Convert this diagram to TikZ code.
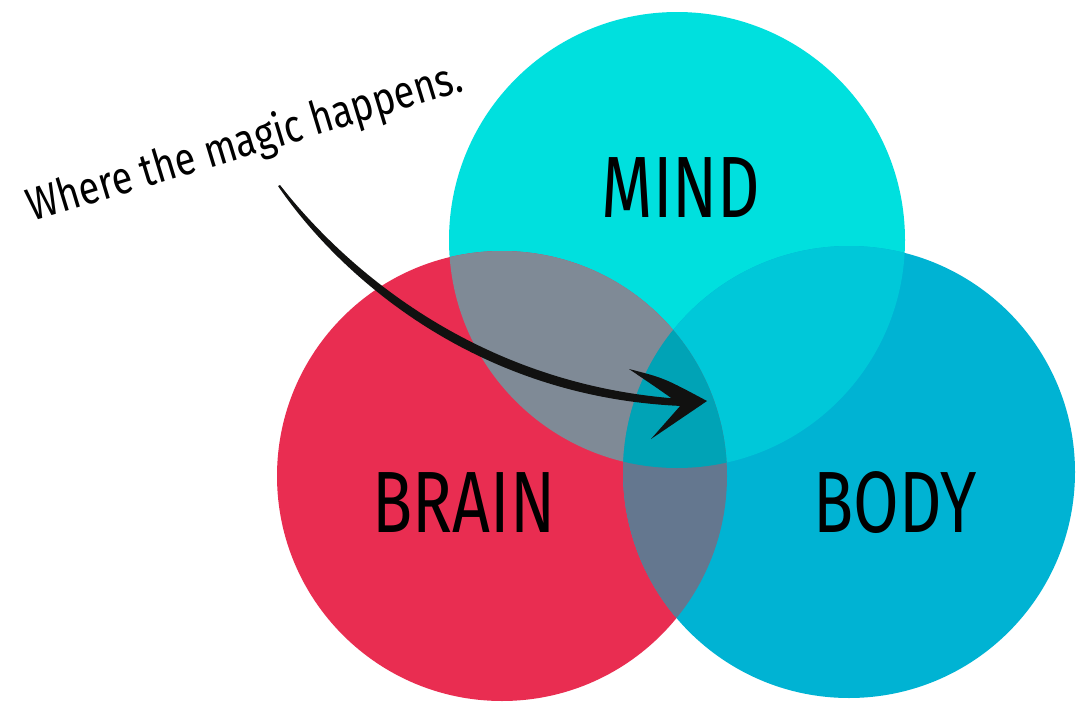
\documentclass[tikz,border=0pt]{standalone}
\usepackage{fontspec}
\newfontfamily\labfont[FakeStretch=0.76]{Fira Sans}
\newfontfamily\notefont[FakeStretch=0.82]{Fira Sans}
\definecolor{mindc}{HTML}{00E0DE}
\definecolor{brainc}{HTML}{E92D51}
\definecolor{bodyc}{HTML}{00B3D3}
\definecolor{mbr}{HTML}{7F8A96}
\definecolor{mbo}{HTML}{00C8D9}
\definecolor{brbo}{HTML}{64778F}
\definecolor{allc}{HTML}{00A3B6}
\definecolor{ink}{HTML}{111110}
\begin{document}
\begin{tikzpicture}[x=1pt,y=-1pt,
  biglabel/.style={font=\labfont\fontsize{87}{87}\selectfont, text=black, inner sep=0pt, anchor=base},
  notelabel/.style={font=\notefont\fontsize{46}{46}\selectfont, text=black, inner sep=0pt, anchor=base}]
\fill[white] (0,0) rectangle (1076,704);
\useasboundingbox (0,0) rectangle (1076,704);
\coordinate (cm) at (677,240);
\coordinate (cbr) at (502,476);
\coordinate (cbo) at (849,472);
\def\rm{228pt}
\def\rbr{225pt}
\def\rbo{226pt}
% circles
\fill[mindc] (cm) circle (\rm);
\fill[brainc] (cbr) circle (\rbr);
\fill[bodyc] (cbo) circle (\rbo);
% pairwise overlaps
\begin{scope}\clip (cm) circle (\rm); \fill[mbr] (cbr) circle (\rbr);\end{scope}
\begin{scope}\clip (cm) circle (\rm); \fill[mbo] (cbo) circle (\rbo);\end{scope}
\begin{scope}\clip (cbr) circle (\rbr); \fill[brbo] (cbo) circle (\rbo);\end{scope}
\begin{scope}\clip (cm) circle (\rm); \clip (cbr) circle (\rbr); \fill[allc] (cbo) circle (\rbo);\end{scope}
% labels
\node[biglabel] (mind) at (681,217) {MIND};
\node[biglabel] (brain) at (464,532) {BRAIN};
\node[biglabel] (body) at (895,532) {BODY};
\node[notelabel, rotate=16.9] (note) at (249,156) {Where the magic happens.};
% arrow (tapered stroke)
\coordinate (astart) at (280,185);
\coordinate (aend) at (682,403);
\fill[ink] (astart) .. controls (340,262) and (472,385) .. (682,399)
  -- (682,406) .. controls (468,397) and (334,268) .. (278,186) -- cycle;
% arrow head
\coordinate (tip) at (707,401);
\fill[ink] (629,369) .. controls (664,378) .. (tip)
  .. controls (682,418) .. (651,439)
  -- (681,405) .. controls (660,390) .. (629,369) -- cycle;
\end{tikzpicture}
\end{document}
